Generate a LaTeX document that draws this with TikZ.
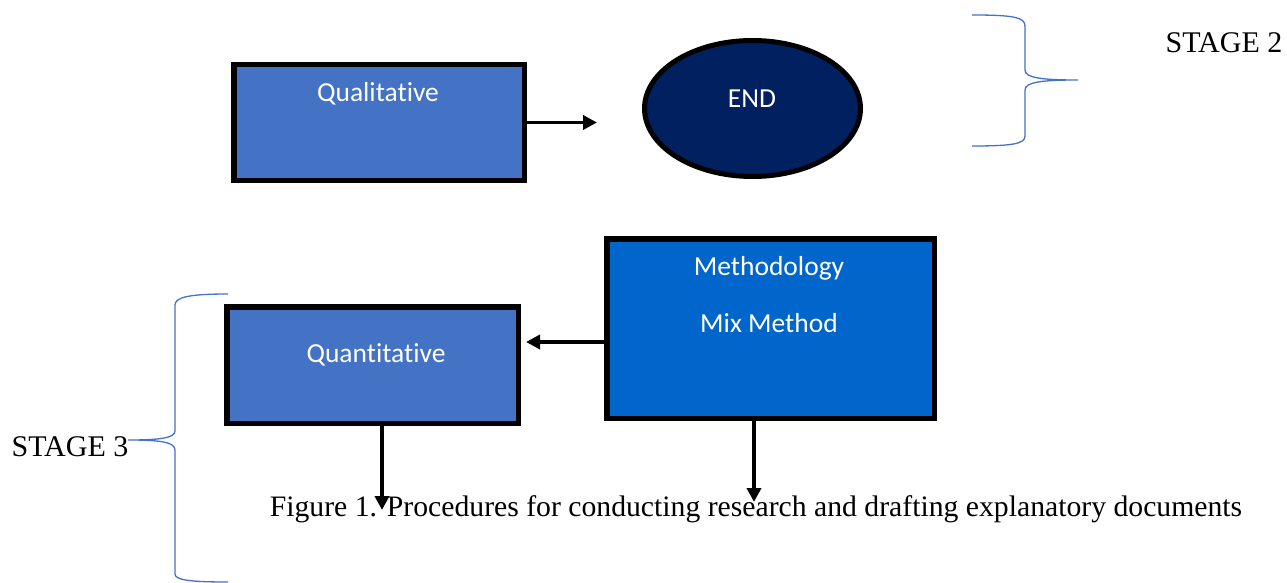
\documentclass[tikz,border=0pt]{standalone}
\usepackage{fontspec}
\setmainfont{Liberation Serif}
\newfontfamily\boxfont[Ligatures={NoCommon}]{Carlito}
\usetikzlibrary{arrows.meta,shapes.geometric}
\definecolor{qualblue}{HTML}{4472C4}
\definecolor{methblue}{HTML}{0066CC}
\definecolor{endnavy}{HTML}{002060}
\tikzset{
	stepbox/.style={draw=black, line width=5.5pt, rectangle, inner sep=0pt},
	endshape/.style={draw=black, line width=5pt, ellipse, inner sep=0pt, fill=endnavy},
	boxtext/.style={text=white, font=\boxfont\fontsize{27.5}{31}\selectfont, inner sep=0pt},
	stagetext/.style={font=\fontsize{30}{34}\selectfont, inner sep=0pt},
	arr/.style={line width=3.5pt, -{Triangle[length=14pt,width=14pt]}},
	brace/.style={draw=qualblue, line width=1.3pt}
}

\begin{document}
\begin{tikzpicture}[x=1pt, y=-1pt]
		%%%%% START %%%%%
		\useasboundingbox (0, 0) rectangle (1287, 583);
		
		% stage 2
		\node[stepbox, fill=qualblue, minimum width=290.5pt, minimum height=115.5pt] (qual) at (379, 122.5) {};
		\node[boxtext] (qualtxt) at (378, 94) {Qualitative};
		\coordinate (qualend) at (597, 122.5);
		\draw[arr] (qual.east) -- (qualend);
		
		\node[endshape, minimum width=216pt, minimum height=136pt] (end) at (752.5, 108.5) {};
		\node[boxtext] (endtxt) at (752, 99) {END};
		
		\draw[brace] (972, 15) .. controls (1012, 15) and (1025, 17) .. (1025, 26) -- (1025, 70)
			.. controls (1025, 78) and (1042, 80) .. (1078, 80)
			.. controls (1042, 80) and (1025, 82) .. (1025, 90) -- (1025, 136)
			.. controls (1025, 144) and (1012, 146) .. (972, 146);
		\node[stagetext] (stagetwo) at (1224, 43) {STAGE 2};
		
		% stage 3
		\node[stepbox, fill=methblue, minimum width=327.5pt, minimum height=179.5pt] (meth) at (770.5, 328.5) {};
		\node[boxtext] (methtxt) at (769, 268) {Methodology};
		\node[boxtext] (mixtxt) at (769, 323) {Mix Method};
		
		\node[stepbox, fill=qualblue, minimum width=291.5pt, minimum height=116.5pt] (quan) at (372.5, 365) {};
		\node[boxtext] (quantxt) at (376, 355) {Quantitative};
		
		\coordinate (quanend) at (526, 342);
		\coordinate (quandown) at (382, 510);
		\coordinate (methdown) at (754, 502);
		\draw[arr] ([yshift=-13.5pt]meth.west) -- (quanend);
		\draw[arr] ([xshift=9.5pt]quan.south) -- (quandown);
		\draw[arr] ([xshift=-16.5pt]meth.south) -- (methdown);
		
		\draw[brace] (228, 294) .. controls (190, 294) and (175, 297) .. (175, 305) -- (175, 431)
			.. controls (175, 438) and (160, 440) .. (128, 440)
			.. controls (160, 440) and (175, 442) .. (175, 450) -- (175, 574)
			.. controls (175, 580) and (190, 582) .. (228, 582);
		\node[stagetext] (stagethree) at (70, 447) {STAGE 3};
		
		\node[stagetext, font=\fontsize{29.7}{34}\selectfont] (caption) at (756, 509) {Figure 1. Procedures for conducting research and drafting explanatory documents};
		%%%%% END %%%%%
	\end{tikzpicture}
\end{document}
